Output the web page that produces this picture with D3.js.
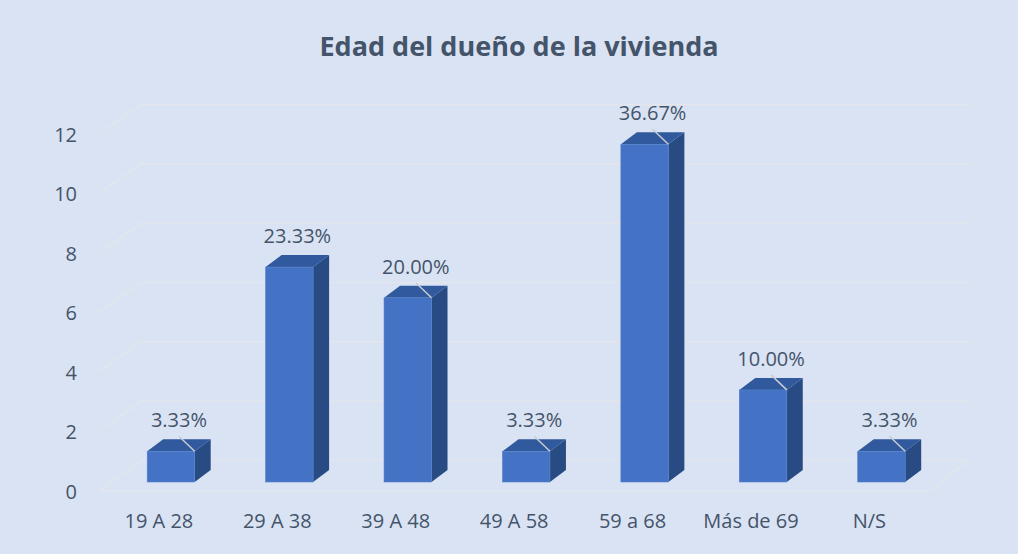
<!DOCTYPE html>
<html>
<head>
<meta charset="utf-8">
<script src="https://cdn.jsdelivr.net/npm/d3@7"></script>
<style>
  body { margin: 0; background: #dae3f3; }
  svg { display: block; }
  text { font-family: 'Open Sans', 'Noto Sans', sans-serif; fill: #44546a; }
</style>
</head>
<body>
<script>
const title = 'Edad del dueño de la vivienda'
const categories = ['19 A 28', '29 A 38', '39 A 48', '49 A 58', '59 a 68', 'Más de 69', 'N/S']
const counts = [1, 7, 6, 1, 11, 3, 1]
const percentLabels = ['3.33%', '23.33%', '20.00%', '3.33%', '36.67%', '10.00%', '3.33%']
const leaderShown = [true, false, true, true, true, true, true]
const yTicks = [0, 2, 4, 6, 8, 10, 12]

const width = 1018
const height = 554
const depth = {dx: 16, dy: -12}   // bar depth offset
const wall = {x0: 99, x1: 141, right: 969, floorRight: 930}

const svg = d3.select('body').append('svg')
  .attr('width', width)
  .attr('height', height)

svg.append('rect').attr('width', width).attr('height', height).attr('fill', '#dae3f3')

// scales
const x = d3.scaleBand().domain(categories).range([88, 964.4]).paddingInner(0.599).paddingOuter(0.5)
const yBar = d3.scaleLinear().domain([0, 12]).range([482, 113.6])
const yFront = d3.scaleLinear().domain([0, 12]).range([491, 134])
const yBack = d3.scaleLinear().domain([0, 12]).range([460.5, 104.5])

// gridlines on side wall and back wall
const grid = svg.append('g').attr('fill', 'none').attr('stroke', '#e4e6ea').attr('stroke-width', 1.2)
yTicks.forEach(t => {
  grid.append('path')
    .attr('d', `M${wall.x0},${yFront(t)}L${wall.x1},${yBack(t)}L${wall.right},${yBack(t)}`)
})
// floor front and right edges
grid.append('path')
  .attr('d', `M${wall.x0},${yFront(0)}L${wall.floorRight},${yFront(0)}L${wall.right},${yBack(0)}`)

// y axis labels
const yAxis = svg.append('g')
  .attr('transform', 'translate(77,1)')
  .call(d3.axisLeft(yFront).tickValues(yTicks).tickSize(0).tickPadding(0))
yAxis.select('.domain').remove()
yAxis.selectAll('text').style('font-size', '20px').attr('fill', '#44546a')
  .style('font-family', "'Open Sans', 'Noto Sans', sans-serif")

// category labels
svg.append('g').selectAll('text')
  .data(categories)
  .enter().append('text')
  .attr('x', d => x(d) + 11.7)
  .attr('y', 528)
  .attr('text-anchor', 'middle')
  .style('font-size', '20px')
  .text(d => d)

// 3d bars
const bars = svg.append('g').selectAll('g')
  .data(categories.map((c, i) => ({c, v: counts[i], label: percentLabels[i], leader: leaderShown[i]})))
  .enter().append('g')

const bw = x.bandwidth()

bars.append('path') // side face
  .attr('fill', '#294b84')
  .attr('d', d => {
    const xr = x(d.c) + bw
    const yt = yBar(d.v)
    const yb = yBar(0)
    return `M${xr},${yt}L${xr + depth.dx},${yt + depth.dy}L${xr + depth.dx},${yb + depth.dy}L${xr},${yb}Z`
  })

bars.append('path') // top face
  .attr('fill', '#30599e')
  .attr('d', d => {
    const xl = x(d.c)
    const yt = yBar(d.v)
    return `M${xl},${yt}L${xl + depth.dx},${yt + depth.dy}L${xl + bw + depth.dx},${yt + depth.dy}L${xl + bw},${yt}Z`
  })

bars.append('rect') // front face
  .attr('x', d => x(d.c))
  .attr('y', d => yBar(d.v))
  .attr('width', bw)
  .attr('height', d => yBar(0) - yBar(d.v))
  .attr('fill', '#4472c4')
  .attr('stroke', '#5580cc')
  .attr('stroke-width', 0.6)

// data labels with leader lines
const labelX = d => x(d.c) + bw / 2 + depth.dx / 2
bars.filter(d => d.leader).append('line')
  .attr('x1', labelX)
  .attr('y1', d => yBar(d.v) - 15)
  .attr('x2', d => x(d.c) + bw)
  .attr('y2', d => yBar(d.v))
  .attr('stroke', '#c9ccd2')
  .attr('stroke-width', 1.5)

bars.append('text')
  .attr('x', labelX)
  .attr('y', d => yBar(d.v) - 24)
  .attr('text-anchor', 'middle')
  .style('font-size', '20px')
  .text(d => d.label)

// title
svg.append('text')
  .attr('x', 519)
  .attr('y', 56)
  .attr('text-anchor', 'middle')
  .style('font-size', '27px')
  .style('font-weight', 'bold')
  .text(title)
</script>
</body>
</html>
